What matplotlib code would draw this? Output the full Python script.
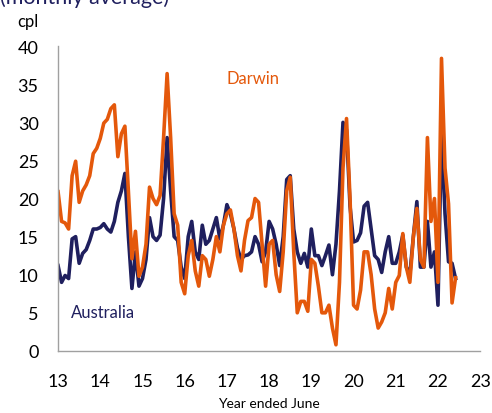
import numpy as np
import matplotlib
matplotlib.use("Agg")
import matplotlib.pyplot as plt

# Monthly average petrol prices (cpl), starting July 2012 (x = 13)
darwin = [20.9, 17, 16.8, 16, 23, 24.9, 19.5, 21, 21.8, 23, 25.9, 26.6,
          27.9, 29.9, 30.4, 31.8, 32.3, 25.5, 28.5, 29.5, 20.9, 12.1, 15.7, 9.8,
          11, 14, 21.5, 20, 19.2, 20.4, 28, 36.4, 28, 18, 16.5, 9,
          7.5, 12.5, 14.5, 10.5, 8.5, 12.5, 12, 9.8, 12, 15, 13, 16.5,
          18, 18.5, 16, 12.5, 10.5, 14.5, 17.1, 17.5, 20, 19.5, 14, 8.5,
          14, 14.5, 10, 7.8, 13, 21, 22.8, 13, 5, 6.5, 6.5, 5.2,
          12, 11.5, 8.5, 5, 5, 6, 3, 0.8, 9, 24, 30.5, 20,
          6, 5.5, 8, 13, 13, 10, 5.5, 3, 3.8, 5, 8.2, 5.5,
          9, 9.9, 15.4, 11, 9, 15, 18.7, 12, 11, 28, 17, 20,
          9, 38.4, 24, 19.3, 6.3, 9.6]
australia = [11.2, 9, 9.9, 9.5, 14.7, 15, 11.5, 12.8, 13.3, 14.5, 16, 16,
             16.2, 16.7, 16, 15.6, 17, 19.5, 21, 23.3, 15, 8.2, 13, 8.5,
             9.5, 12, 17.5, 15, 14.5, 15.2, 20, 28, 21, 15, 14.5, 11,
             9.5, 15, 17, 13, 12, 16.5, 14, 14.5, 16, 17.5, 14.7, 16.5,
             19.2, 18, 16, 13.5, 12, 12.5, 12.6, 13, 15, 14, 11.7, 13,
             17, 16, 14, 11.2, 15, 22.5, 23, 16, 13, 11.5, 12.8, 11,
             16, 12.5, 12.5, 11.2, 12.5, 13.9, 10, 14, 21, 30, 29, 19,
             14.3, 14.5, 15.5, 19, 19.5, 16, 12.5, 12, 10.3, 13, 15, 11.5,
             11.5, 13, 15.2, 11, 10, 15, 19.6, 11, 11, 17, 11, 13,
             6, 29, 18, 11.7, 11.5, 9.5]
months = 13 + np.arange(len(darwin)) / 12
year_ticks = list(range(13, 24))

navy = "#1f1f5e"
orange = "#e4580b"
plt.rcParams['font.family'] = ['Lato', 'DejaVu Sans']

fig = plt.figure(figsize=(4.92, 4.14), dpi=100)
ax = fig.add_axes([0.118, 0.150, 0.858, 0.736])

ax.plot(months, australia, color=navy, lw=2.6, solid_joinstyle='round')
ax.plot(months, darwin, color=orange, lw=2.6, solid_joinstyle='round')

ax.set_xlim(13, 23)
ax.set_ylim(0, 40)
ax.set_xticks(year_ticks)
ax.set_yticks(range(0, 41, 5))
ax.tick_params(length=0, labelsize=13)
ax.tick_params(axis='y', pad=14)
ax.tick_params(axis='x', pad=16)
for s in ['top', 'right']:
    ax.spines[s].set_visible(False)
for s in ['left', 'bottom']:
    ax.spines[s].set_color('#a0a0a0')
    ax.spines[s].set_linewidth(1)

ax.text(17.0, 35.2, "Darwin", color=orange, fontsize=12)
ax.text(13.3, 4.5, "Australia", color=navy, fontsize=12)
ax.set_xlabel("Year ended June", fontsize=10, labelpad=6)

fig.text(38 / 492, 1 - 22 / 414, "cpl", ha='right', va='center', fontsize=12)
fig.text(0.0, 1 - 4 / 414, "(monthly average)", ha='left', va='baseline',
         fontsize=15.5, color=navy)

fig.savefig("out.png", dpi=100)
